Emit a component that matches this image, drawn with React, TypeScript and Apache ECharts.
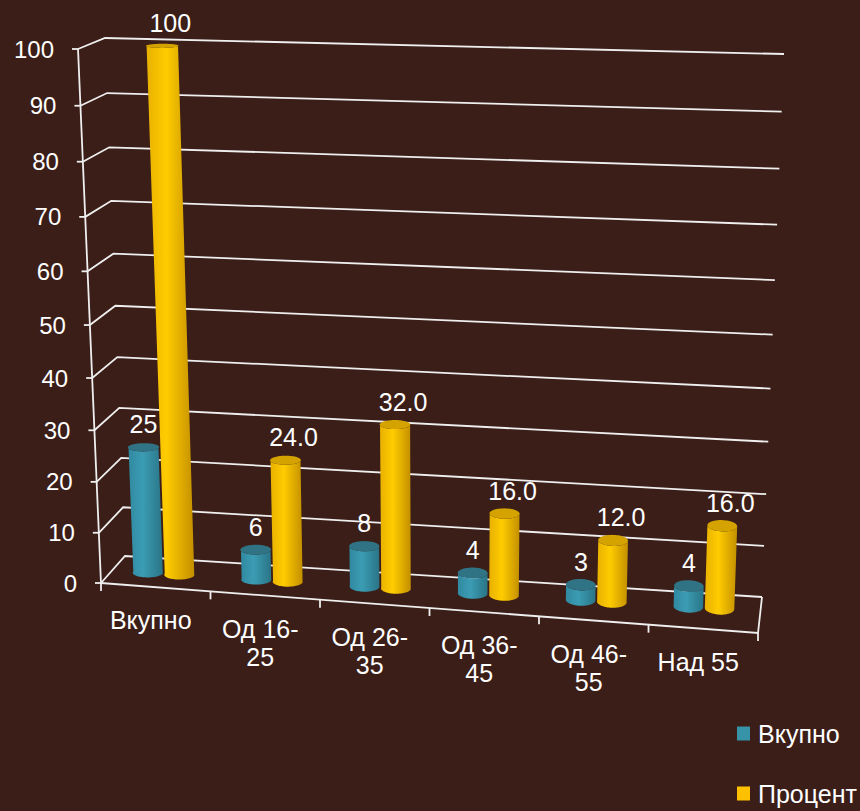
import React, { useEffect, useRef } from "react";
import * as echarts from "echarts";

const categories = ["Вкупно", "Од 16-25", "Од 26-35", "Од 36-45", "Од 46-55", "Над 55"];
const totalValues = [25, 6, 8, 4, 3, 4];
const percentValues = [100, 24.0, 32.0, 16.0, 12.0, 16.0];
const yTicks = [0, 10, 20, 30, 40, 50, 60, 70, 80, 90, 100];
const seriesNames = ["Вкупно", "Процент"];

// projection of the 3D box (layout only)
const FLB = [101, 583], FRB = [758, 633], BLB = [125, 556], BRB = [762, 597];
const FLT = [78, 49], FRT = [777, 74], BLT = [105, 38], BRT = [784, 54];
const PERSP = 0.07;
const FONT = "'Liberation Sans', Arial, sans-serif";
const TEXT = "#ffffff";
const LINE = "#efefef";
const FS = 25;

const lerp = (a: number[], b: number[], t: number) => [a[0] + (b[0] - a[0]) * t, a[1] + (b[1] - a[1]) * t];
function P(u: number, v: number, w: number) {
  const h = v / (1 + PERSP * (1 - v));
  const fb = lerp(FLB, FRB, u), bb = lerp(BLB, BRB, u);
  const ft = lerp(FLT, FRT, u), bt = lerp(BLT, BRT, u);
  const bot = lerp(fb, bb, w), top = lerp(ft, bt, w);
  return lerp(bot, top, h);
}
const uOf = (x: number, cs: any) => (x - cs.x) / cs.width;
const vOf = (y: number, cs: any) => (cs.y + cs.height - y) / cs.height;

function gridItem(params: any, api: any) {
  const cs = params.coordSys;
  const t = api.value(1);
  const v = vOf(api.coord([0, t])[1], cs);
  const a = P(0, v, 0), b = P(0, v, 1), c = P(1, v, 1);
  return {
    type: "group",
    children: [
      { type: "polyline", shape: { points: [a, b, c] }, style: { stroke: LINE, lineWidth: 1.8, fill: "none" } },
      { type: "line", shape: { x1: a[0] - 6, y1: a[1], x2: a[0], y2: a[1] }, style: { stroke: LINE, lineWidth: 1.8 } },
      {
        type: "text", x: a[0] - 24, y: a[1],
        style: { text: String(t), fill: TEXT, fontSize: 24, fontFamily: FONT, align: "right", verticalAlign: "middle" },
      },
    ],
  };
}

function frameItem(params: any, api: any) {
  const cs = params.coordSys;
  const vMax = vOf(api.coord([0, yTicks[yTicks.length - 1]])[1], cs);
  const cw = api.size([1, 0])[0];
  const children: any[] = [
    { type: "polyline", shape: { points: [P(0, 0, 0), P(0, vMax, 0)] }, style: { stroke: LINE, lineWidth: 1.8, fill: "none" } },
    { type: "polyline", shape: { points: [P(0, 0, 0), P(1, 0, 0), P(1, 0, 1)] }, style: { stroke: LINE, lineWidth: 1.8, fill: "none" } },
  ];
  for (let i = 0; i <= categories.length; i++) {
    const x = i < categories.length ? api.coord([i, 0])[0] - cw / 2 : api.coord([categories.length - 1, 0])[0] + cw / 2;
    const p = P(uOf(x, cs), 0, 0);
    children.push({ type: "line", shape: { x1: p[0], y1: p[1], x2: p[0], y2: p[1] + 8 }, style: { stroke: LINE, lineWidth: 1.8 } });
  }
  return { type: "group", children };
}

function catLabelItem(params: any, api: any) {
  const cs = params.coordSys;
  const idx = api.value(0);
  const p = P(uOf(api.coord([idx, 0])[0], cs), 0, 0);
  return {
    type: "text", x: p[0] - 5, y: p[1] + 19,
    style: {
      text: categories[idx].replace("-", "-\n"), fill: TEXT, fontSize: FS, fontFamily: FONT,
      align: "center", verticalAlign: "top", lineHeight: 28,
    },
  };
}

function makeCylinder(side: number, c: { dark: string; light: string; bright: string; cap: string }, fmt: (v: number) => string, labelDx: number) {
  return (params: any, api: any) => {
    const cs = params.coordSys;
    const idx = api.value(0), val = api.value(1);
    const top = api.coord([idx, val]);
    const cw = api.size([1, 0])[0];
    const uc = uOf(top[0], cs) + ((side * 0.145 - 0.025) * cw) / cs.width;
    const ru = (0.137 * cw) / cs.width;
    const vTop = vOf(top[1], cs);
    const wc = 0.47 + 0.14 * uc;
    const rw = 0.17;
    const N = 36;
    const pt = (th: number, v: number) => P(uc + ru * Math.cos(th), v, wc + rw * Math.sin(th));
    const body: number[][] = [];
    for (let k = 0; k <= N; k++) body.push(pt(Math.PI + (Math.PI * k) / N, 0));
    for (let k = N; k >= 0; k--) body.push(pt(Math.PI + (Math.PI * k) / N, vTop));
    const cap: number[][] = [];
    for (let k = 0; k < 2 * N; k++) cap.push(pt((Math.PI * k) / N, vTop));
    const lp = P(uc, vTop, wc);
    return {
      type: "group",
      children: [
        {
          type: "polygon", shape: { points: body },
          style: {
            fill: new echarts.graphic.LinearGradient(0, 0, 1, 0, [
              { offset: 0, color: c.light },
              { offset: 0.42, color: c.bright },
              { offset: 1, color: c.dark },
            ]),
          },
        },
        { type: "polygon", shape: { points: cap }, style: { fill: c.cap } },
        {
          type: "text", x: lp[0] + labelDx, y: lp[1] - 23,
          style: { text: fmt(val), fill: TEXT, fontSize: FS, fontFamily: FONT, align: "center", verticalAlign: "middle" },
        },
      ],
    };
  };
}

const fmtTotal = (v: number) => String(v);
const fmtPercent = (v: number) => (v >= 100 ? String(v) : v.toFixed(1));

const legendBase = {
  orient: "vertical", left: 732, itemWidth: 13, itemHeight: 14,
  icon: "rect", selectedMode: false,
  textStyle: { color: TEXT, fontSize: FS, fontFamily: FONT, padding: [0, 0, 0, 3] },
};

export default function App() {
  const ref = useRef<HTMLDivElement>(null);
  useEffect(() => {
    if (!ref.current) return;
    const chart = echarts.init(ref.current, undefined, { renderer: "svg" });
    chart.setOption({
      animation: false,
      backgroundColor: "#3b1e18",
      grid: { left: 0, right: 0, top: 0, bottom: 0 },
      xAxis: { type: "category", data: categories, show: false },
      yAxis: { type: "value", min: 0, max: 100, interval: 10, show: false },
      legend: [
        { ...legendBase, top: 716, data: [seriesNames[0]] },
        { ...legendBase, top: 776, data: [seriesNames[1]] },
      ],
      series: [
        { type: "custom", name: "grid", silent: true, clip: false, data: yTicks.map((t) => [0, t]), renderItem: gridItem },
        { type: "custom", name: "frame", silent: true, clip: false, data: [[0, 0]], renderItem: frameItem },
        { type: "custom", name: "cats", silent: true, clip: false, data: categories.map((_, i) => [i, 0]), renderItem: catLabelItem },
        {
          type: "custom", name: seriesNames[0], silent: true, clip: false, itemStyle: { color: "#3793a8" },
          data: totalValues.map((v, i) => [i, v]),
          renderItem: makeCylinder(-1, { light: "#3089a0", bright: "#3b9cb3", dark: "#2a7486", cap: "#2f7384" }, fmtTotal, 0),
        },
        {
          type: "custom", name: seriesNames[1], silent: true, clip: false, itemStyle: { color: "#ffc000" },
          data: percentValues.map((v, i) => [i, v]),
          renderItem: makeCylinder(1, { light: "#e8b000", bright: "#ffcc00", dark: "#c38f00", cap: "#d4a300" }, fmtPercent, 8),
        },
      ],
    });
    return () => chart.dispose();
  }, []);
  return <div ref={ref} style={{ position: "fixed", left: 0, top: 0, width: 860, height: 811 }} />;
}
